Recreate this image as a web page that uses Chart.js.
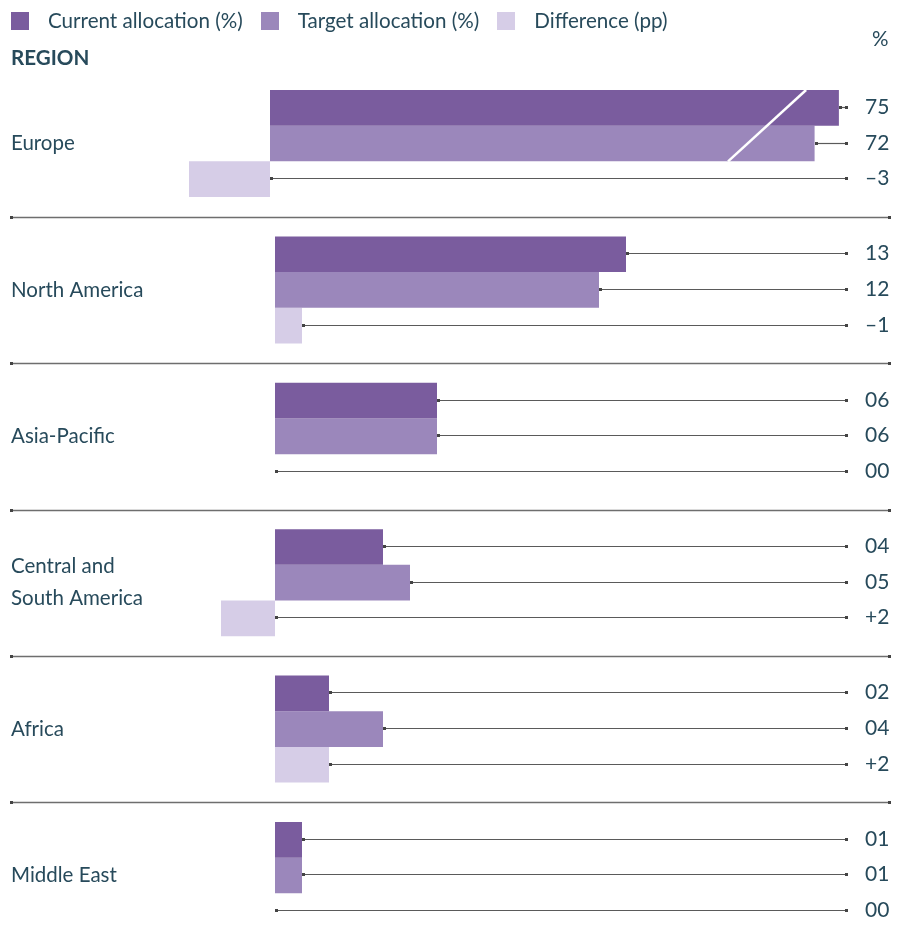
<!DOCTYPE html>
<html>
<head>
<meta charset="utf-8">
<script src="https://cdn.jsdelivr.net/npm/chart.js@4"></script>
<style>
  body { margin: 0; overflow: hidden; background: #fff; font-family: Lato, sans-serif; color: #274a5b; }
  #wrap { position: relative; width: 905px; height: 944px; }
  canvas { position: absolute; left: 0; top: 0; }
  .legend { position: absolute; left: 11px; top: 10px; display: flex; align-items: center; font-size: 20.6px; line-height: 21px; }
  .legend .item { display: flex; align-items: center; margin-right: 18px; }
  .legend .box { width: 18px; height: 18px; margin-right: 19px; }
  .region { position: absolute; left: 11px; top: 45px; font-weight: bold; font-size: 20.6px; }
  .pct { position: absolute; left: 872px; top: 26px; font-size: 20.6px; }
</style>
</head>
<body>
<div id="wrap">
  <canvas id="chart" width="905" height="944"></canvas>
  <div class="legend">
    <div class="item"><span class="box" style="background:#7a5c9e"></span>Current allocation (%)</div>
    <div class="item"><span class="box" style="background:#9b87bb"></span>Target allocation (%)</div>
    <div class="item"><span class="box" style="background:#d6cde7"></span>Difference (pp)</div>
  </div>
  <div class="region">REGION</div>
  <div class="pct">%</div>
</div>
<script>
const regions = ['Europe', 'North America', 'Asia-Pacific', 'Central and\nSouth America', 'Africa', 'Middle East'];
const current = [75, 13, 6, 4, 2, 1];
const target = [72, 12, 6, 5, 4, 1];
// difference bars, length and side as drawn in the source
const diffDrawn = [-3, 1, 0, -2, 2, 0];
const diffLabels = ['–3', '–1', '00', '+2', '+2', '00'];

const colors = ['#7a5c9e', '#9b87bb', '#d6cde7'];
const textColor = '#274a5b';

// Europe sits on a broken axis, slightly left of the others
const EUROPE_OFFSET = -0.185;
const shown = v => v > 20 ? 20.17 + (v - 72) * 0.3 : v;
const start = i => i === 0 ? EUROPE_OFFSET : 0;

const bars = vals => vals.map((v, i) => ({ y: i, x: [start(i), start(i) + shown(v)] }));
const diffBars = diffDrawn.map((d, i) => ({ y: i, x: [start(i), start(i) + d] }));

const pad2 = v => String(v).padStart(2, '0');
const labels = [current.map(pad2), target.map(pad2), diffLabels];

const LEADER_END = 846;

const overlay = {
  id: 'overlay',
  afterDatasetsDraw(chart) {
    const { ctx } = chart;
    const x = chart.scales.x, y = chart.scales.y;
    ctx.save();

    // axis break through the Europe bars
    const e0 = chart.getDatasetMeta(0).data[0];
    const e1 = chart.getDatasetMeta(1).data[0];
    ctx.strokeStyle = '#fff';
    ctx.lineWidth = 2.5;
    ctx.beginPath();
    ctx.moveTo(x.getPixelForValue(19.67), e0.y - e0.height / 2);
    ctx.lineTo(x.getPixelForValue(16.78), e1.y + e1.height / 2);
    ctx.stroke();

    // leader lines and value labels
    ctx.font = '21px Lato';
    ctx.textBaseline = 'middle';
    ctx.textAlign = 'left';
    for (let d = 0; d < 3; d++) {
      chart.getDatasetMeta(d).data.forEach((el, i) => {
        const x0 = Math.round(Math.max(el.x, el.base)) + 1;
        const yy = Math.round(el.y) - 0.5;
        ctx.strokeStyle = '#5a5a5a';
        ctx.lineWidth = 1.2;
        ctx.beginPath();
        ctx.moveTo(x0, yy);
        ctx.lineTo(LEADER_END, yy);
        ctx.stroke();
        ctx.fillStyle = '#444';
        ctx.fillRect(x0 - 1, yy - 1.5, 3, 3);
        ctx.fillRect(LEADER_END - 1, yy - 1.5, 3, 3);
        ctx.fillStyle = textColor;
        ctx.fillText(labels[d][i], 865, yy);
      });
    }

    // separators between regions
    for (let i = 0; i < regions.length - 1; i++) {
      const yy = Math.round(y.getPixelForValue(i + 0.5)) + 0.5;
      ctx.strokeStyle = '#6e6e6e';
      ctx.lineWidth = 1.5;
      ctx.beginPath();
      ctx.moveTo(11, yy);
      ctx.lineTo(889, yy);
      ctx.stroke();
      ctx.fillStyle = '#444';
      ctx.fillRect(10, yy - 1.5, 3, 3);
      ctx.fillRect(888, yy - 1.5, 3, 3);
    }

    // region names
    ctx.font = '20.5px Lato';
    ctx.fillStyle = textColor;
    regions.forEach((r, i) => {
      const lines = r.split('\n');
      const cy = y.getPixelForValue(i);
      lines.forEach((ln, k) => {
        ctx.fillText(ln, 11, cy + (k - (lines.length - 1) / 2) * 32);
      });
    });
    ctx.restore();
  }
};

new Chart(document.getElementById('chart'), {
  type: 'bar',
  data: {
    datasets: [
      { label: 'Current allocation (%)', data: bars(current), backgroundColor: colors[0] },
      { label: 'Target allocation (%)', data: bars(target), backgroundColor: colors[1] },
      { label: 'Difference (pp)', data: diffBars, backgroundColor: colors[2] }
    ]
  },
  options: {
    indexAxis: 'y',
    responsive: false,
    animation: false,
    devicePixelRatio: 1,
    layout: { padding: 0 },
    datasets: {
      bar: {
        categoryPercentage: 0.731,
        barPercentage: 1,
        borderWidth: 0
      }
    },
    plugins: {
      legend: { display: false },
      tooltip: { enabled: false }
    },
    scales: {
      x: {
        type: 'linear',
        min: -275 / 27,
        max: (905 - 275) / 27,
        display: false
      },
      y: {
        type: 'linear',
        reverse: true,
        offset: false,
        grid: { offset: false },
        min: -0.9802,
        max: 5.4679,
        display: false,
        afterBuildTicks: s => { s.ticks = regions.map((_, i) => ({ value: i })); }
      }
    }
  },
  plugins: [overlay]
});
</script>
</body>
</html>
